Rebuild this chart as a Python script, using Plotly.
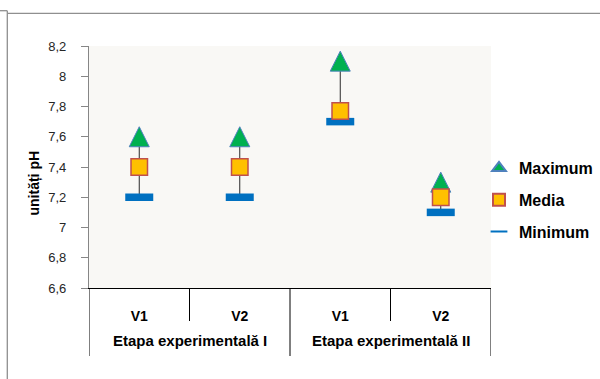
import numpy as np
import plotly.graph_objects as go

# pH values per variant and experimental stage
variants = ["V1", "V2", "V1", "V2"]
stages = ["Etapa experimentală I", "Etapa experimentală I",
          "Etapa experimentală II", "Etapa experimentală II"]
ph_max = [7.6, 7.6, 8.1, 7.3]
ph_mean = [7.4, 7.4, 7.77, 7.2]
ph_min = [7.2, 7.2, 7.7, 7.1]

y_ticks_min, y_ticks_max, y_step = 6.6, 8.2, 0.2

# canvas and plot-area geometry (pixels)
W, H = 600, 379
L, R, T, B = 89, 109, 46, 91
PW, PH = W - L - R, H - T - B


def px(x):
    return (x - L) / PW


def py(y):
    return (H - B - y) / PH


FONT = "Liberation Sans"
pos = np.arange(len(variants))

MAX_STYLE = dict(color="#00b050", line=dict(color="#4f81bd", width=1))

fig = go.Figure()

# minimum markers carry the high-low line up to the maximum
fig.add_trace(go.Scatter(
    x=pos, y=ph_min, mode="markers", name="Minimum",
    legendgroup="min", legendrank=3, hoverinfo="skip",
    marker=dict(symbol="line-ew", size=20,
                line=dict(color="#0070c0", width=7.5)),
    error_y=dict(type="data", symmetric=False,
                 array=np.subtract(ph_max, ph_min),
                 arrayminus=np.zeros(len(pos)),
                 width=0, thickness=1, color="#2b2b2b"),
))
# maximum: tall triangle centred on the value
fig.add_trace(go.Scatter(
    x=pos, y=ph_max, mode="markers", name="Maximum",
    showlegend=False, hoverinfo="skip",
    marker=dict(symbol="arrow-down", angle=180, standoff=10, size=20,
                **MAX_STYLE),
))
# legend entry for the maximum (plain triangle glyph)
fig.add_trace(go.Scatter(
    x=[None], y=[None], mode="markers", name="Maximum",
    legendgroup="max", legendrank=1, hoverinfo="skip",
    marker=dict(symbol="triangle-up", size=12, **MAX_STYLE),
))
fig.add_trace(go.Scatter(
    x=pos, y=ph_mean, mode="markers", name="Media",
    legendgroup="mean", legendrank=2, hoverinfo="skip",
    marker=dict(symbol="square", size=16.5,
                color="#ffc000", line=dict(color="#c0504d", width=1.5)),
))

shapes = []
# category separators below the axis: long ones at stage edges
edges = list(pos - 0.5) + [pos[-1] + 0.5]
for i, xb in enumerate(edges):
    left = stages[i - 1] if i > 0 else None
    right = stages[i] if i < len(stages) else None
    long_line = left != right
    shapes.append(dict(type="line", xref="x", yref="paper",
                       x0=xb, x1=xb, y0=0, y1=py(356 if long_line else 321),
                       line=dict(color="black", width=1)))

# outer frame of the chart
frame = dict(color="#8f8f8f", width=1.3)
shapes += [
    dict(type="line", xref="paper", yref="paper", x0=px(0), x1=px(7.3),
         y0=py(10.7), y1=py(10.7), line=frame),
    dict(type="line", xref="paper", yref="paper", x0=px(7.3), x1=px(7.3),
         y0=py(10.7), y1=py(380), line=frame),
    dict(type="line", xref="paper", yref="paper", x0=px(7.3), x1=px(601),
         y0=py(13.3), y1=py(13.3), line=frame),
]

annotations = []
for st in dict.fromkeys(stages):
    xc = float(np.mean([p for p, s in zip(pos, stages) if s == st]))
    annotations.append(dict(text=st, x=xc, xref="x", y=py(340), yref="paper",
                            showarrow=False, xanchor="center", yanchor="middle",
                            font=dict(family=FONT, size=15, color="black",
                                      weight="bold")))
annotations.append(dict(text="unități pH", textangle=-90, x=px(33.5), xref="paper",
                        y=py(183), yref="paper", showarrow=False,
                        xanchor="center", yanchor="middle",
                        font=dict(family=FONT, size=14, color="black",
                                  weight="bold")))

fig.update_layout(
    width=W, height=H, autosize=False,
    margin=dict(l=L, r=R, t=T, b=B, pad=0, autoexpand=False),
    paper_bgcolor="white", plot_bgcolor="#f9f8f5",
    separators=", ",
    font=dict(family=FONT, color="black"),
    shapes=shapes, annotations=annotations,
    legend=dict(x=px(479), xanchor="left", y=py(200), yanchor="middle",
                font=dict(family=FONT, size=16, color="black", weight="bold"),
                itemsizing="constant", tracegroupgap=8,
                bgcolor="rgba(0,0,0,0)"),
    xaxis=dict(range=[pos[0] - 0.5, pos[-1] + 0.5], tickvals=pos,
               ticktext=variants, showgrid=False, zeroline=False,
               showline=True, linecolor="black", linewidth=1, ticks="",
               ticklabelstandoff=15,
               tickfont=dict(family=FONT, size=14, color="black",
                             weight="bold")),
    yaxis=dict(range=[y_ticks_min, y_ticks_max], tick0=y_ticks_min,
               dtick=y_step, showgrid=False, zeroline=False,
               showline=True, linecolor="#868686", linewidth=1.2,
               ticks="outside", ticklen=7, tickcolor="#868686",
               tickwidth=1.2, ticklabelstandoff=12,
               tickfont=dict(family=FONT, size=13, color="#262626")),
)

fig.write_html("out.html")
